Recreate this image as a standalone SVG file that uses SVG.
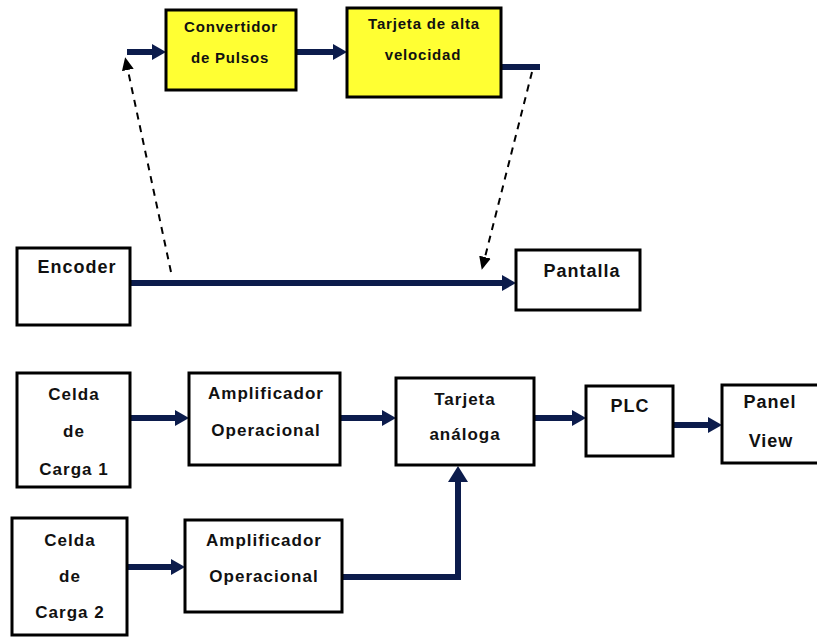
<svg xmlns="http://www.w3.org/2000/svg" width="817" height="637" viewBox="0 0 817 637">
  <style>
    .box { fill: #ffffff; stroke: #000000; stroke-width: 3; }
    .hi { fill: #ffff33; }
    .lbl { font-family: "Liberation Sans", Arial, sans-serif; font-size: 17px; font-weight: bold; letter-spacing: 1px; fill: #111111; text-anchor: middle; }
    .sm { font-size: 15px; letter-spacing: 0.8px; }
    .lg { font-size: 18px; }
    .flow { fill: none; stroke: #0c1c4c; stroke-width: 6; }
    .dash { fill: none; stroke: #000000; stroke-width: 2; stroke-dasharray: 7 6; }
  </style>
  <defs>
    <marker id="head" viewBox="0 0 14 16" refX="6" refY="8" markerWidth="14" markerHeight="16" markerUnits="userSpaceOnUse" orient="auto">
      <path d="M0,0 L14,8 L0,16 z" fill="#0c1c4c"/>
    </marker>
    <marker id="bighead" viewBox="0 0 16 20" refX="6" refY="10" markerWidth="16" markerHeight="20" markerUnits="userSpaceOnUse" orient="auto">
      <path d="M0,0 L16,10 L0,20 z" fill="#0c1c4c"/>
    </marker>
    <marker id="dhead" viewBox="0 0 13 12" refX="4" refY="6" markerWidth="13" markerHeight="12" markerUnits="userSpaceOnUse" orient="auto">
      <path d="M0,0 L13,6 L0,12 z" fill="#000000"/>
    </marker>
  </defs>

  <rect width="817" height="637" fill="#ffffff"/>

  <!-- connectors -->
  <g id="connectors">
    <path class="flow" d="M127,52 H158" marker-end="url(#head)"/>
    <path class="flow" d="M296,52 H339" marker-end="url(#head)"/>
    <path class="flow" d="M501,67 H540"/>
    <path class="flow" d="M130,283 H508" marker-end="url(#head)"/>
    <path class="dash" d="M171,272 L127,66" marker-end="url(#dhead)"/>
    <path class="dash" d="M532,72 L484,261" marker-end="url(#dhead)"/>
    <path class="flow" d="M130,418 H181" marker-end="url(#head)"/>
    <path class="flow" d="M340,418 H388" marker-end="url(#head)"/>
    <path class="flow" d="M534,418 H578" marker-end="url(#head)"/>
    <path class="flow" d="M673,425 H714" marker-end="url(#head)"/>
    <path class="flow" d="M127,567 H177" marker-end="url(#head)"/>
    <path class="flow" d="M342,577 H458 V476" marker-end="url(#bighead)"/>
  </g>

  <g id="convertidor">
    <rect class="box hi" x="166" y="10" width="130" height="80"/>
    <text class="lbl sm" x="231" y="32">Convertidor</text>
    <text class="lbl sm" x="230" y="63">de Pulsos</text>
  </g>
  <g id="tarjeta-alta">
    <rect class="box hi" x="347" y="8" width="154" height="89"/>
    <text class="lbl sm" x="424" y="29">Tarjeta de alta</text>
    <text class="lbl sm" x="423" y="60">velocidad</text>
  </g>
  <g id="encoder">
    <rect class="box" x="17" y="248" width="113" height="77"/>
    <text class="lbl lg" x="77" y="273">Encoder</text>
  </g>
  <g id="pantalla">
    <rect class="box" x="516" y="250" width="124" height="60"/>
    <text class="lbl lg" x="582" y="277">Pantalla</text>
  </g>
  <g id="celda1">
    <rect class="box" x="17" y="373" width="113" height="114"/>
    <text class="lbl" x="74" y="400">Celda</text>
    <text class="lbl" x="74" y="437">de</text>
    <text class="lbl" x="74" y="475">Carga 1</text>
  </g>
  <g id="amp1">
    <rect class="box" x="189" y="373" width="151" height="92"/>
    <text class="lbl" x="266" y="399">Amplificador</text>
    <text class="lbl" x="266" y="436">Operacional</text>
  </g>
  <g id="tarjeta-analoga">
    <rect class="box" x="396" y="378" width="138" height="87"/>
    <text class="lbl" x="465" y="405">Tarjeta</text>
    <text class="lbl" x="465" y="440">análoga</text>
  </g>
  <g id="plc">
    <rect class="box" x="586" y="386" width="87" height="70"/>
    <text class="lbl lg" x="630" y="412">PLC</text>
  </g>
  <g id="panel-view">
    <rect class="box" x="722" y="385" width="100" height="78"/>
    <text class="lbl lg" x="770" y="408">Panel</text>
    <text class="lbl lg" x="771" y="447">View</text>
  </g>
  <g id="celda2">
    <rect class="box" x="12" y="518" width="115" height="117"/>
    <text class="lbl" x="70" y="546">Celda</text>
    <text class="lbl" x="70" y="582">de</text>
    <text class="lbl" x="70" y="618">Carga 2</text>
  </g>
  <g id="amp2">
    <rect class="box" x="185" y="520" width="157" height="92"/>
    <text class="lbl" x="264" y="546">Amplificador</text>
    <text class="lbl" x="264" y="582">Operacional</text>
  </g>
</svg>
